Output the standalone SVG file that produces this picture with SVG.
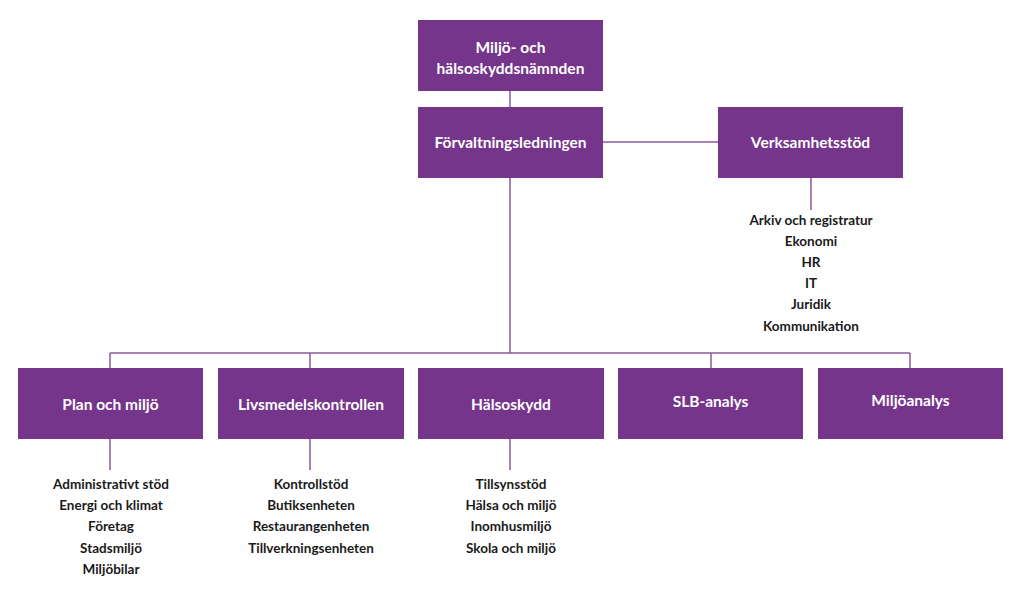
<svg xmlns="http://www.w3.org/2000/svg" width="1024" height="592" viewBox="0 0 1024 592">
<style>
.box{fill:#74358b}
.bt{font-family:Lato,"Open Sans",sans-serif;font-weight:bold;font-size:15.5px;fill:#ffffff;text-anchor:middle}
.st{font-family:Lato,"Open Sans",sans-serif;font-weight:bold;font-size:13.5px;fill:#1a1a1a;text-anchor:middle}
.ln{stroke:#8b5a9f;stroke-width:1.5;fill:none}
</style>
<rect width="1024" height="592" fill="#ffffff"/>
<g id="connectors">
<path class="ln" d="M510 91V107M603 142H718M510 178V353M811 178V210M110 353H910M110 353V368M310 353V368M711 353V368M910 353V368M110 439V470M310 439V470M510 439V470"/>
</g>
<g id="n-namnd"><rect class="box" x="418" y="20" width="185" height="71"/><text class="bt" x="510.5" y="53">Miljö- och</text><text class="bt" x="510.5" y="74">hälsoskyddsnämnden</text></g>
<g id="n-forv"><rect class="box" x="418" y="107" width="185" height="71"/><text class="bt" x="510.5" y="148">Förvaltningsledningen</text></g>
<g id="n-verk"><rect class="box" x="718" y="107" width="185" height="71"/><text class="bt" x="810.5" y="148">Verksamhetsstöd</text>
<text class="st" x="811" y="225">Arkiv och registratur</text><text class="st" x="811" y="246">Ekonomi</text><text class="st" x="811" y="267">HR</text><text class="st" x="811" y="288">IT</text><text class="st" x="811" y="309">Juridik</text><text class="st" x="811" y="331">Kommunikation</text></g>
<g id="n-plan"><rect class="box" x="18" y="368" width="185" height="71"/><text class="bt" x="110.5" y="410">Plan och miljö</text>
<text class="st" x="111" y="489">Administrativt stöd</text><text class="st" x="111" y="510">Energi och klimat</text><text class="st" x="111" y="531">Företag</text><text class="st" x="111" y="553">Stadsmiljö</text><text class="st" x="111" y="574">Miljöbilar</text></g>
<g id="n-livs"><rect class="box" x="218" y="368" width="186" height="71"/><text class="bt" x="311" y="410">Livsmedelskontrollen</text>
<text class="st" x="311" y="489">Kontrollstöd</text><text class="st" x="311" y="510">Butiksenheten</text><text class="st" x="311" y="531">Restaurangenheten</text><text class="st" x="311" y="553">Tillverkningsenheten</text></g>
<g id="n-halso"><rect class="box" x="418" y="368" width="186" height="71"/><text class="bt" x="511" y="410">Hälsoskydd</text>
<text class="st" x="511" y="489">Tillsynsstöd</text><text class="st" x="511" y="510">Hälsa och miljö</text><text class="st" x="511" y="531">Inomhusmiljö</text><text class="st" x="511" y="553">Skola och miljö</text></g>
<g id="n-slb"><rect class="box" x="618" y="368" width="185" height="71"/><text class="bt" x="710.5" y="407">SLB-analys</text></g>
<g id="n-miljo"><rect class="box" x="818" y="368" width="185" height="71"/><text class="bt" x="910.5" y="406">Miljöanalys</text></g>
</svg>
